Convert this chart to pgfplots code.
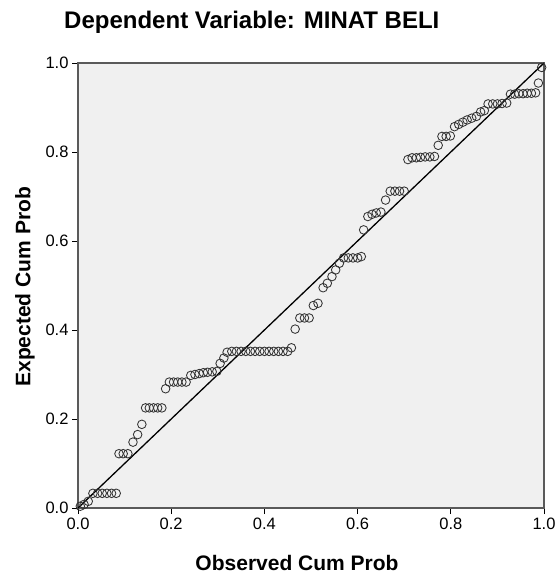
\documentclass[border=0pt]{standalone}
\usepackage{fontspec}
\setmainfont{Liberation Sans}
\usepackage{pgfplots}
\pgfplotsset{compat=1.18}
\definecolor{plotbg}{HTML}{F0F0F0}
\definecolor{framecol}{HTML}{5A5A5A}

\pgfplotstableread{
x y
0.005 0.004
0.013 0.008
0.022 0.015
0.032 0.033
0.042 0.033
0.052 0.033
0.062 0.033
0.072 0.033
0.082 0.033
0.088 0.122
0.097 0.122
0.107 0.122
0.118 0.148
0.128 0.165
0.137 0.188
0.145 0.225
0.153 0.225
0.162 0.225
0.171 0.225
0.180 0.225
0.188 0.268
0.196 0.283
0.205 0.283
0.214 0.283
0.223 0.283
0.232 0.283
0.242 0.298
0.251 0.300
0.260 0.302
0.269 0.304
0.278 0.305
0.288 0.306
0.298 0.307
0.305 0.325
0.313 0.337
0.320 0.350
0.330 0.352
0.340 0.352
0.350 0.352
0.360 0.352
0.370 0.352
0.380 0.352
0.390 0.352
0.400 0.352
0.410 0.352
0.420 0.352
0.430 0.352
0.440 0.352
0.450 0.352
0.458 0.360
0.466 0.402
0.476 0.427
0.486 0.427
0.496 0.427
0.505 0.455
0.515 0.460
0.526 0.495
0.535 0.505
0.545 0.520
0.553 0.535
0.561 0.550
0.570 0.562
0.580 0.562
0.590 0.562
0.600 0.562
0.608 0.565
0.613 0.625
0.622 0.655
0.631 0.660
0.640 0.663
0.650 0.665
0.660 0.692
0.670 0.712
0.680 0.712
0.690 0.712
0.700 0.712
0.708 0.783
0.717 0.787
0.726 0.787
0.735 0.788
0.745 0.789
0.755 0.789
0.765 0.790
0.773 0.815
0.781 0.835
0.790 0.835
0.799 0.836
0.808 0.857
0.817 0.862
0.826 0.867
0.835 0.872
0.845 0.876
0.855 0.880
0.864 0.890
0.872 0.893
0.880 0.908
0.890 0.908
0.900 0.908
0.910 0.909
0.920 0.910
0.928 0.930
0.937 0.930
0.946 0.931
0.955 0.931
0.964 0.932
0.973 0.932
0.982 0.933
0.988 0.955
0.995 0.990
}\ppdata

\begin{document}
\begin{tikzpicture}
\path[use as bounding box] (-78pt,-68pt) rectangle (480pt,508pt);
\begin{axis}[
  scale only axis,
  width=466pt, height=445pt,
  xmin=0, xmax=1, ymin=0, ymax=1,
  xtick={0,0.2,0.4,0.6,0.8,1.0},
  ytick={0,0.2,0.4,0.6,0.8,1.0},
  xtick pos=bottom, ytick pos=left,
  tick align=outside,
  major tick length=6pt,
  tick style={black, line width=0.9pt},
  axis line style={draw=framecol, line width=1.2pt},
  axis background/.style={fill=plotbg},
  /pgf/number format/assume math mode=true,
  ticklabel style={font=\fontsize{16.5}{16.5}\selectfont,
    /pgf/number format/.cd, fixed, fixed zerofill, precision=1},
  title={Dependent Variable: MINAT BELI},
  title style={font=\fontsize{24}{24}\selectfont\bfseries,
    at={(axis description cs:0.373,1.079)}, anchor=center},
  xlabel={Observed Cum Prob},
  ylabel={Expected Cum Prob},
  xlabel style={font=\fontsize{21}{21}\selectfont\bfseries,
    at={(axis description cs:0.47,-0.124)}, anchor=center},
  ylabel style={font=\fontsize{21}{21}\selectfont\bfseries,
    at={(axis description cs:-0.114,0.497)}, anchor=center},
]
\addplot[black, line width=1.3pt] coordinates {(0,0) (1,1)};
\addplot[only marks, mark=o, mark size=4.3pt,
  mark options={draw=black!80, line width=0.85pt}] table[x=x, y=y] {\ppdata};
\end{axis}
\end{tikzpicture}
\end{document}
